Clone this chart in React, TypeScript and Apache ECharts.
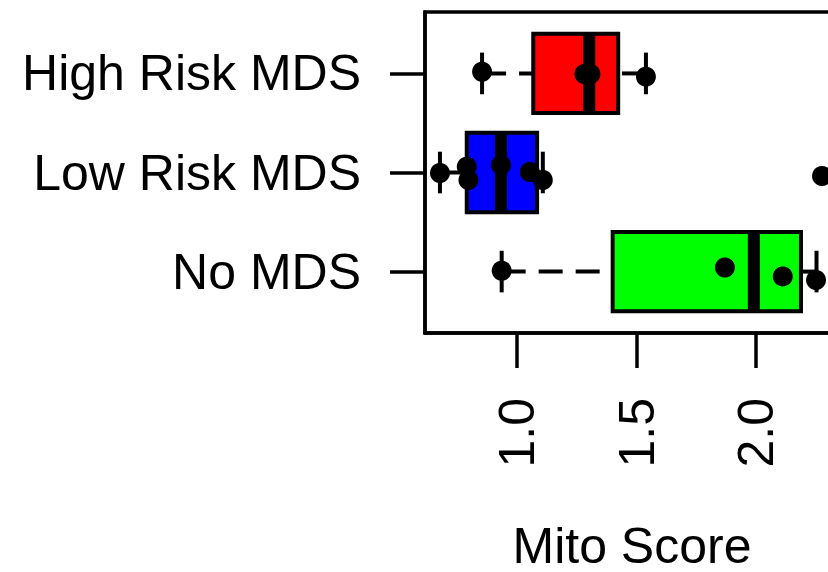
import React, { useEffect, useRef } from "react";
import * as echarts from "echarts";

// Groups, bottom to top (as R draws a horizontal boxplot)
const categories = ["No MDS", "Low Risk MDS", "High Risk MDS"];
const boxColors = ["#00FF00", "#0000FF", "#FF0000"];

// Box statistics: [lower whisker, Q1, median, Q3, upper whisker]
const noMdsStats = [0.936, 1.4, 1.99, 2.187, 2.252];
const lowRiskStats = [0.678, 0.79, 0.933, 1.084, 1.108];
const highRiskStats = [0.854, 1.068, 1.302, 1.423, 1.539];

// Jittered strip-chart points: [Mito Score, jittered group position]
const noMdsPoints = [
  [0.936, 1.008],
  [1.869, 1.041],
  [2.111, 0.951],
  [2.25, 0.915],
];
const lowRiskPoints = [
  [0.678, 1.995],
  [0.79, 2.059],
  [0.797, 1.924],
  [0.933, 2.076],
  [1.054, 2.005],
  [1.108, 1.924],
  [2.275, 1.965],
];
const highRiskPoints = [
  [0.854, 3.017],
  [1.282, 2.994],
  [1.307, 2.994],
  [1.539, 2.967],
];

const xTickValues = [1.0, 1.5, 2.0];
const xTickLabels = ["1.0", "1.5", "2.0"];
const yTickValues = [1, 2, 3];

const FONT = "Liberation Sans, Arial, Helvetica, sans-serif";

export default function App() {
  const ref = useRef<HTMLDivElement | null>(null);

  useEffect(() => {
    if (!ref.current) return;
    const chart = echarts.init(ref.current, null, { renderer: "svg" });

    const allStats = [noMdsStats, lowRiskStats, highRiskStats];
    const boxData = allStats.map((s, i) => [i + 1, ...s]);
    const points = [...noMdsPoints, ...lowRiskPoints, ...highRiskPoints];

    const BOX_HALF = 0.4;
    const STAPLE_HALF = 0.21;
    const LW = 4;

    const option: any = {
      animation: false,
      backgroundColor: "#ffffff",
      grid: {
        left: 425,
        top: 12,
        width: 414,
        height: 321,
        show: true,
        borderColor: "#000",
        borderWidth: 3.5,
        backgroundColor: "transparent",
        containLabel: false,
        outerBoundsMode: "none",
      },
      xAxis: {
        type: "value",
        min: 0.6155,
        max: 2.346,
        name: "Mito Score",
        nameLocation: "middle",
        nameGap: 193,
        nameTextStyle: { fontFamily: FONT, fontSize: 50, lineHeight: 40, color: "#000" },
        axisLine: { show: true, onZero: false, lineStyle: { color: "#000", width: 3.5 } },
        axisTick: {
          show: true,
          length: 35,
          customValues: xTickValues,
          lineStyle: { color: "#000", width: 3.5 },
        },
        axisLabel: {
          show: true,
          rotate: 90,
          margin: 65,
          customValues: xTickValues,
          fontFamily: FONT,
          fontSize: 50,
          color: "#000",
          formatter: (v: number) => {
            const i = xTickValues.findIndex((t) => Math.abs(t - v) < 1e-9);
            return i >= 0 ? xTickLabels[i] : "";
          },
        },
        splitLine: { show: false },
      },
      yAxis: {
        type: "value",
        min: 0.38,
        max: 3.62,
        axisLine: { show: true, onZero: false, lineStyle: { color: "#000", width: 3.5 } },
        axisTick: {
          show: true,
          length: 35,
          customValues: yTickValues,
          lineStyle: { color: "#000", width: 3.5 },
        },
        axisLabel: {
          show: true,
          margin: 64,
          customValues: yTickValues,
          fontFamily: FONT,
          fontSize: 50,
          color: "#000",
          formatter: (v: number) => categories[Math.round(v) - 1] ?? "",
        },
        splitLine: { show: false },
      },
      series: [
        {
          type: "custom",
          data: boxData,
          encode: { x: [1, 2, 3, 4, 5], y: 0 },
          clip: false,
          z: 2,
          renderItem: (params: any, api: any) => {
            const y = api.value(0);
            const lo = api.value(1);
            const q1 = api.value(2);
            const med = api.value(3);
            const q3 = api.value(4);
            const hi = api.value(5);
            const color = boxColors[params.dataIndex];
            const c = (x: number, yy: number) => api.coord([x, yy]);
            const yc = c(lo, y)[1];
            const top = c(q1, y + BOX_HALF)[1];
            const bot = c(q1, y - BOX_HALF)[1];
            const sTop = c(lo, y + STAPLE_HALF)[1];
            const sBot = c(lo, y - STAPLE_HALF)[1];
            const xLo = c(lo, y)[0];
            const xQ1 = c(q1, y)[0];
            const xMed = c(med, y)[0];
            const xQ3 = c(q3, y)[0];
            const xHi = c(hi, y)[0];
            const dashStyle = { stroke: "#000", lineWidth: LW, lineDash: [24, 13], lineCap: "butt" };
            const solid = { stroke: "#000", lineWidth: LW };
            return {
              type: "group",
              children: [
                { type: "line", shape: { x1: xLo, y1: yc, x2: xQ1, y2: yc }, style: dashStyle },
                { type: "line", shape: { x1: xHi, y1: yc, x2: xQ3, y2: yc }, style: dashStyle },
                { type: "line", shape: { x1: xLo, y1: sTop, x2: xLo, y2: sBot }, style: solid },
                { type: "line", shape: { x1: xHi, y1: sTop, x2: xHi, y2: sBot }, style: solid },
                {
                  type: "rect",
                  shape: { x: xQ1, y: top, width: xQ3 - xQ1, height: bot - top },
                  style: { fill: color, stroke: "#000", lineWidth: LW },
                },
                {
                  type: "line",
                  shape: { x1: xMed, y1: top, x2: xMed, y2: bot },
                  style: { stroke: "#000", lineWidth: 12, lineCap: "butt" },
                },
              ],
            };
          },
        },
        {
          type: "scatter",
          data: points,
          symbol: "circle",
          symbolSize: 20,
          clip: false,
          z: 3,
          itemStyle: { color: "#000", opacity: 1 },
          emphasis: { disabled: true },
        },
      ],
    };

    chart.setOption(option);
    return () => chart.dispose();
  }, []);

  return (
    <div
      ref={ref}
      style={{ position: "absolute", left: 0, top: 0, width: 828, height: 572, background: "#fff" }}
    />
  );
}
